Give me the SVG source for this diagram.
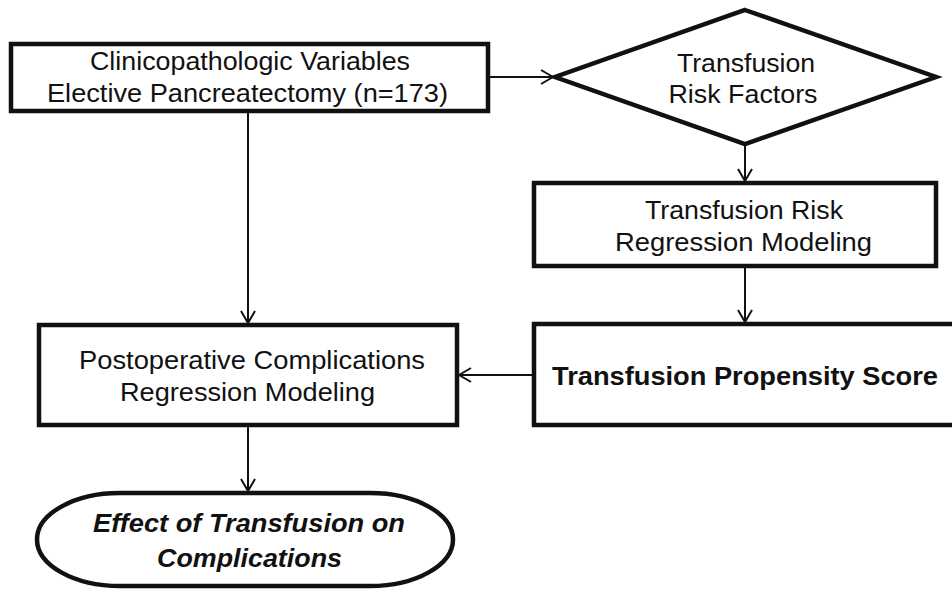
<svg xmlns="http://www.w3.org/2000/svg" width="952" height="591" viewBox="0 0 952 591">
  <style>
    .box { fill: #fff; stroke: #111; stroke-width: 4.5; stroke-linejoin: miter; }
    .conn { fill: none; stroke: #111; stroke-width: 2; }
    .t { font-family: "Liberation Sans", Arial, sans-serif; font-size: 25px; fill: #111; text-anchor: middle; }
    .tb { font-family: "Liberation Sans", Arial, sans-serif; font-size: 26px; font-weight: bold; fill: #111; text-anchor: middle; }
    .tbi { font-family: "Liberation Sans", Arial, sans-serif; font-size: 26px; font-weight: bold; font-style: italic; fill: #111; text-anchor: middle; }
  </style>
  <defs>
    <marker id="arr" viewBox="0 0 14 16" refX="13" refY="8" markerWidth="14" markerHeight="16" markerUnits="userSpaceOnUse" orient="auto">
      <path d="M1,1 L13,8 L1,15" fill="none" stroke="#111" stroke-width="2"/>
    </marker>
  </defs>
  <rect width="952" height="591" fill="#fff"/>

  <g id="connectors">
    <line class="conn" x1="490" y1="77" x2="553" y2="77" marker-end="url(#arr)"/>
    <line class="conn" x1="745" y1="146" x2="745" y2="181" marker-end="url(#arr)"/>
    <line class="conn" x1="745" y1="268" x2="745" y2="322" marker-end="url(#arr)"/>
    <line class="conn" x1="532" y1="375" x2="459" y2="375" marker-end="url(#arr)"/>
    <line class="conn" x1="248" y1="113" x2="248" y2="323" marker-end="url(#arr)"/>
    <line class="conn" x1="248" y1="427" x2="248" y2="491" marker-end="url(#arr)"/>
  </g>

  <g id="clinico">
    <rect class="box" x="11" y="44" width="477" height="67"/>
    <text class="t" x="250" y="70" textLength="320" lengthAdjust="spacingAndGlyphs">Clinicopathologic Variables</text>
    <text class="t" x="247.5" y="102" textLength="401" lengthAdjust="spacingAndGlyphs">Elective Pancreatectomy (n=173)</text>
  </g>

  <g id="riskfactors">
    <polygon class="box" points="745,10 936,77 745,144 555,77" stroke-width="5"/>
    <text class="t" x="746" y="72" textLength="138" lengthAdjust="spacingAndGlyphs">Transfusion</text>
    <text class="t" x="743" y="103" textLength="149" lengthAdjust="spacingAndGlyphs">Risk Factors</text>
  </g>

  <g id="riskmodel">
    <rect class="box" x="534" y="183" width="402" height="83"/>
    <text class="t" x="744" y="219" textLength="198" lengthAdjust="spacingAndGlyphs">Transfusion Risk</text>
    <text class="t" x="743.5" y="251" textLength="257" lengthAdjust="spacingAndGlyphs">Regression Modeling</text>
  </g>

  <g id="propensity">
    <rect class="box" x="534" y="324" width="440" height="101"/>
    <text class="tb" x="745" y="385" textLength="386" lengthAdjust="spacingAndGlyphs">Transfusion Propensity Score</text>
  </g>

  <g id="complications">
    <rect class="box" x="39" y="325" width="418" height="100"/>
    <text class="t" x="252" y="369" textLength="346" lengthAdjust="spacingAndGlyphs">Postoperative Complications</text>
    <text class="t" x="247.5" y="401" textLength="255" lengthAdjust="spacingAndGlyphs">Regression Modeling</text>
  </g>

  <g id="effect">
    <path class="box" d="M120,493 H370 A83,46.5 0 0 1 370,586 H120 A83,46.5 0 0 1 120,493 Z"/>
    <text class="tbi" x="249" y="532" textLength="312" lengthAdjust="spacingAndGlyphs">Effect of Transfusion on</text>
    <text class="tbi" x="249.5" y="567" textLength="185" lengthAdjust="spacingAndGlyphs">Complications</text>
  </g>
</svg>
